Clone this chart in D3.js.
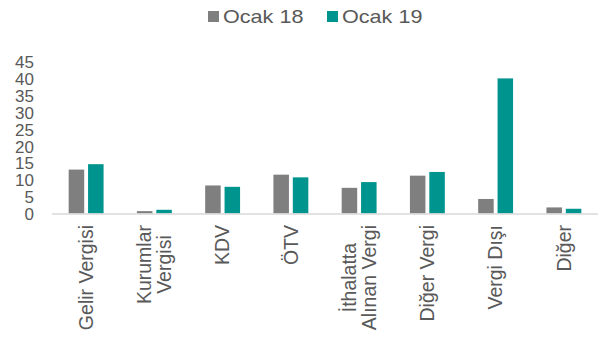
<!DOCTYPE html>
<html>
<head>
<meta charset="utf-8">
<script src="https://cdn.jsdelivr.net/npm/d3@7"></script>
<style>
  body { margin: 0; background: #fff; }
  svg { display: block; font-family: "Liberation Sans", Arial, sans-serif; }
</style>
</head>
<body>
<svg id="chart" width="604" height="338"></svg>
<script>
// data
const categories = [
    ['Gelir Vergisi'],
    ['Kurumlar', 'Vergisi'],
    ['KDV'],
    ['ÖTV'],
    ['İthalatta', 'Alınan Vergi'],
    ['Diğer Vergi'],
    ['Vergi Dışı'],
    ['Diğer']
];
const seriesNames = ['Ocak 18', 'Ocak 19'];
const ocak18 = [13.0, 0.7, 8.3, 11.5, 7.6, 11.2, 4.3, 1.8];
const ocak19 = [14.6, 1.1, 7.9, 10.7, 9.3, 12.3, 40.0, 1.4];
const yTicks = [0, 5, 10, 15, 20, 25, 30, 35, 40, 45];
const colors = ['#7f7f7f', '#00948f'];

const svg = d3.select('#chart');
const margin = { left: 52, right: 6, top: 61.5, bottom: 124.5 };
const width = 604, height = 338;

const x = d3.scaleBand()
    .domain(d3.range(categories.length))
    .range([margin.left, width - margin.right]);
const xInner = d3.scaleBand()
    .domain(seriesNames)
    .range([0, x.bandwidth()])
    .paddingInner(0.2)
    .paddingOuter(0.86);
const y = d3.scaleLinear()
    .domain([0, 45])
    .range([height - margin.bottom, margin.top]);

// y axis, labels only
const yAxis = svg.append('g')
    .attr('transform', `translate(${margin.left - 18},0)`)
    .call(d3.axisLeft(y).tickValues(yTicks).tickSize(0).tickPadding(0));
yAxis.select('.domain').remove();
yAxis.selectAll('text')
    .attr('font-size', 17)
    .attr('font-family', '"Liberation Sans", Arial, sans-serif')
    .attr('fill', '#595959')
    .attr('dy', '0.36em');

// bars
const data = [ocak18, ocak19];
const groups = svg.append('g')
    .selectAll('g')
    .data(data)
    .join('g')
    .attr('fill', (d, i) => colors[i]);
groups.selectAll('rect')
    .data((d, i) => d.map((v, j) => ({ v, j, s: seriesNames[i] })))
    .join('rect')
    .attr('x', d => x(d.j) + xInner(d.s))
    .attr('width', xInner.bandwidth())
    .attr('y', d => y(d.v))
    .attr('height', d => y(0) - y(d.v));

// baseline
svg.append('line')
    .attr('x1', margin.left).attr('x2', width - margin.right)
    .attr('y1', y(0) + 0.5).attr('y2', y(0) + 0.5)
    .attr('stroke', '#d9d9d9')
    .attr('stroke-width', 1.5);

// category labels, rotated; lines centred on the longest one
const lineH = 20;
const labelTop = 225;
const catLabels = svg.append('g')
    .selectAll('text')
    .data(categories)
    .join('text')
    .attr('text-anchor', 'middle')
    .attr('font-size', 19.5)
    .attr('fill', '#595959');
catLabels.selectAll('tspan')
    .data(d => d.map((t, k) => ({ t, k, n: d.length })))
    .join('tspan')
    .attr('x', 0)
    .attr('y', d => (d.k - (d.n - 1) / 2) * lineH)
    .attr('dy', '0.35em')
    .text(d => d.t);
catLabels.each(function (d, i) {
    const maxW = d3.max(d3.select(this).selectAll('tspan').nodes(), n => n.getComputedTextLength());
    d3.select(this)
        .attr('transform', `translate(${x(i) + x.bandwidth() / 2},${labelTop}) rotate(-90)`)
        .selectAll('tspan').attr('x', -maxW / 2);
});

// legend (text a bit wider than the font, as in the reference)
const legend = svg.append('g').attr('transform', 'translate(208,0)');
const legendItems = legend.selectAll('g')
    .data(seriesNames)
    .join('g')
    .attr('transform', (d, i) => `translate(${i * 119},0)`);
legendItems.append('rect')
    .attr('y', 11)
    .attr('width', 11)
    .attr('height', 11)
    .attr('fill', (d, i) => colors[i]);
legendItems.append('text')
    .attr('transform', 'translate(15,17) scale(1.2,1)')
    .attr('dy', '0.35em')
    .attr('font-size', 18)
    .attr('fill', '#595959')
    .text(d => d);
</script>
</body>
</html>
